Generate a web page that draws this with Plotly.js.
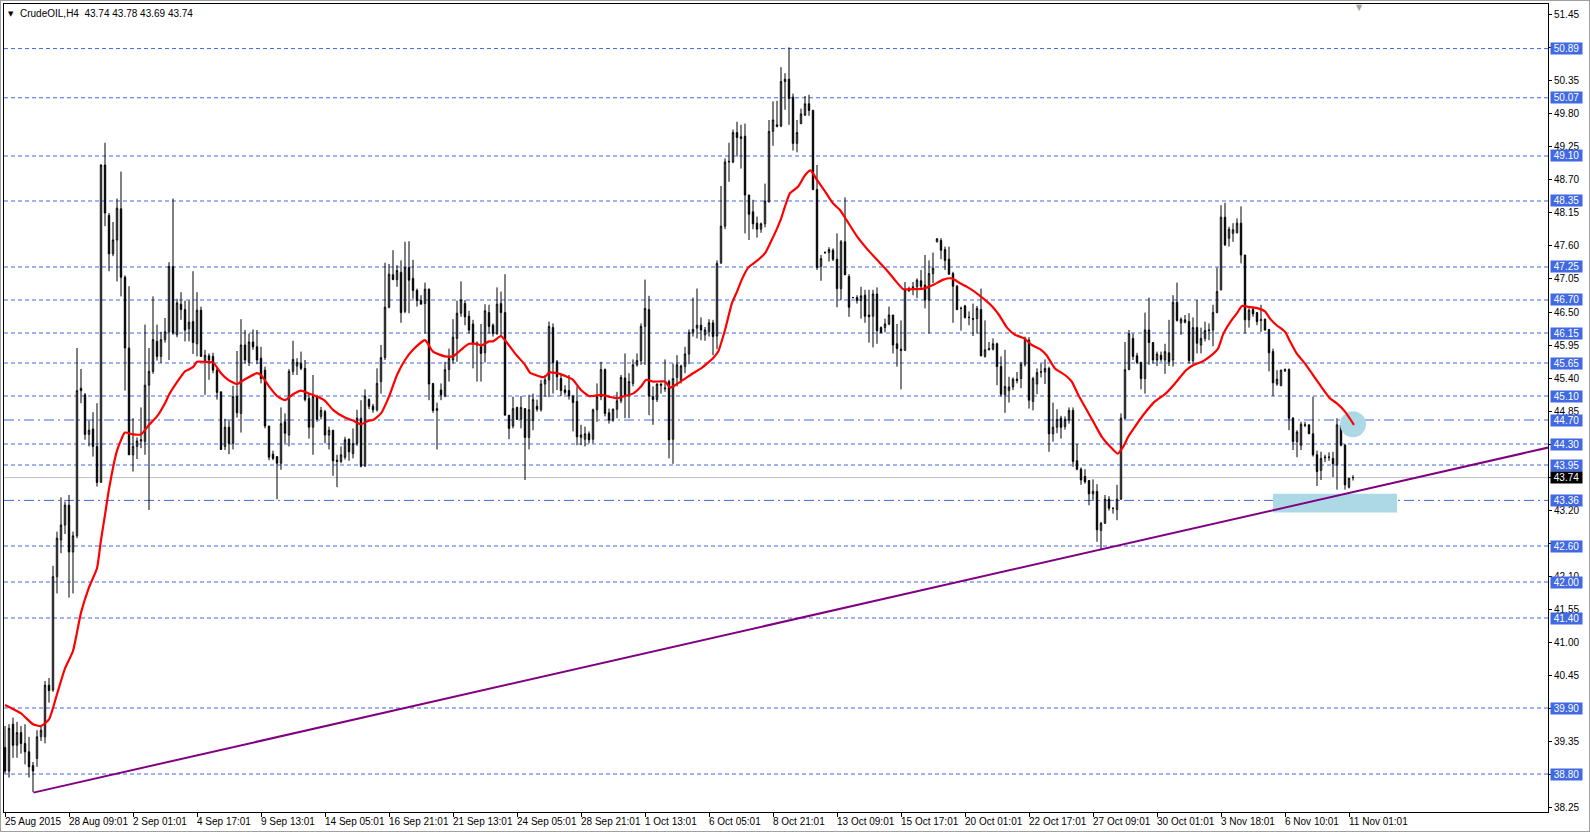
<!DOCTYPE html>
<html><head><meta charset="utf-8">
<script src="https://cdn.plot.ly/plotly-3.0.1.min.js"></script>
<style>
html,body{margin:0;padding:0;background:#fff;overflow:hidden}
#chart{position:absolute;left:0;top:0;width:1590px;height:832px}
#frame{position:absolute;left:0;top:0;width:1588px;height:830px;border:1px solid #a0a0a0;pointer-events:none}
</style></head>
<body><div id="chart"></div><div id="frame"></div>
<script>
// ---- Data (CrudeOIL, H4) ----
const open = [
39.24,38.85,39.63,39.28,39.49,39.31,39.17,38.94,39.06,39.42,
39.42,40.28,40.20,42.09,42.70,42.95,43.28,42.50,42.77,45.23,
45.12,44.46,44.55,44.26,43.66,48.95,48.11,47.47,47.70,48.22,
47.08,45.90,44.12,44.26,44.35,44.34,45.28,45.51,46.01,45.76,
46.04,46.17,47.26,46.12,46.63,46.54,46.22,46.34,45.97,46.53,
45.67,45.77,45.76,45.53,45.17,44.26,44.58,44.31,45.09,44.81,
45.95,45.66,46.00,45.92,45.73,45.53,44.60,44.13,44.09,43.98,
44.67,44.45,45.51,45.60,45.64,45.56,45.06,44.58,45.09,44.76,
44.84,44.45,44.53,44.03,44.01,44.08,44.38,44.14,44.31,44.73,
43.93,45.04,44.93,44.87,45.34,45.74,46.58,47.12,47.04,47.16,
46.51,47.24,47.06,46.86,46.69,46.64,46.88,45.31,44.86,45.20,
45.10,45.54,45.70,46.06,46.48,46.64,46.43,46.30,45.98,45.92,
45.82,46.49,46.28,46.14,46.64,46.49,44.78,44.60,44.91,44.71,
44.89,44.41,44.69,44.93,44.87,45.30,45.37,46.24,45.67,45.39,
45.20,45.19,45.09,45.01,44.41,44.38,44.47,44.38,44.87,45.09,
45.54,44.82,44.70,44.88,45.02,45.40,45.12,45.31,45.62,45.69,
46.26,46.54,45.09,45.04,45.30,45.22,45.34,44.38,45.41,45.36,
45.59,45.80,46.16,46.23,46.28,46.12,46.17,46.32,46.10,47.32,
47.93,49.00,49.00,49.49,49.39,49.43,48.45,48.17,47.98,47.88,
47.97,48.34,49.51,49.59,49.60,50.34,50.38,50.08,49.31,49.64,
49.78,49.97,49.86,48.54,47.26,47.49,47.49,47.53,47.38,46.89,
47.67,47.09,46.74,46.74,46.69,46.78,46.45,46.43,46.80,46.24,
46.24,46.30,46.45,45.97,45.88,45.86,46.85,46.88,46.92,47.02,
46.95,46.70,47.14,47.67,47.69,47.54,47.38,47.14,46.93,46.56,
46.60,46.41,46.39,46.39,46.54,45.76,45.87,45.88,45.97,45.59,
45.12,45.19,45.25,45.38,45.39,45.63,46.03,45.01,45.30,45.50,
45.50,45.56,44.47,44.58,44.73,44.59,44.70,44.86,44.02,43.88,
43.76,43.69,43.47,43.51,42.86,42.98,43.38,43.23,43.21,43.38,
44.73,45.54,46.06,45.77,45.66,45.39,46.20,45.99,45.70,45.78,
45.70,45.82,45.70,46.66,46.32,46.33,46.34,45.69,46.24,45.95,
46.06,46.19,46.20,46.49,46.87,48.08,47.73,47.81,47.82,47.98,
47.45,46.37,46.54,46.49,46.36,46.38,46.21,45.84,45.30,45.27,
45.52,45.54,44.73,44.34,44.28,44.61,44.62,44.47,44.12,43.86,
44.07,44.08,44.06,43.95,44.62,44.28,43.58,43.74];
const high = [
39.60,39.63,39.74,39.67,39.60,39.63,39.42,39.00,39.53,39.60,
40.35,40.40,42.27,42.84,43.41,43.34,43.45,42.84,45.90,45.55,
45.15,44.69,44.83,44.98,48.96,49.32,48.15,48.00,48.39,48.84,
47.11,46.93,44.73,44.41,44.91,46.29,45.90,46.76,46.29,46.17,
46.40,47.33,48.39,46.72,46.83,46.69,46.69,47.18,46.83,46.59,
45.87,45.81,45.82,45.59,45.17,44.72,44.69,45.27,45.85,46.38,
46.20,46.14,46.21,46.20,45.92,45.59,44.60,44.19,44.09,44.91,
44.81,45.55,46.02,45.73,45.84,45.70,45.14,45.45,45.12,44.92,
44.87,44.59,44.53,44.12,44.26,44.42,44.39,44.56,44.87,45.03,
45.21,45.06,44.97,45.56,45.95,47.32,47.30,47.53,47.28,47.36,
47.67,47.68,47.37,46.89,46.78,46.99,46.89,45.31,44.99,45.31,
45.67,45.89,46.38,46.69,47.01,46.70,46.52,46.37,46.01,46.30,
46.63,46.62,46.31,46.91,46.84,47.13,44.78,45.09,44.92,45.10,
44.89,45.12,45.14,45.04,45.37,45.45,46.34,46.31,45.70,45.45,
45.28,45.45,45.12,45.26,44.62,44.59,44.51,44.89,45.31,45.67,
45.56,44.89,44.89,45.17,45.45,45.81,45.48,45.71,45.81,46.31,
47.04,46.77,45.26,45.31,45.31,45.71,45.37,45.64,45.78,45.62,
45.92,46.21,46.74,46.89,46.41,46.25,46.38,46.37,47.36,48.60,
49.06,49.32,49.54,49.67,49.62,49.64,48.45,48.37,48.09,47.99,
48.64,49.70,50.01,50.02,50.58,50.48,50.91,50.14,49.70,49.89,
50.10,50.12,49.87,48.95,47.45,47.51,47.58,47.56,47.81,47.70,
48.41,47.13,46.75,46.78,46.92,46.87,46.87,46.87,46.91,46.26,
46.39,46.59,46.45,46.30,46.36,47.00,46.92,47.00,47.06,47.20,
47.45,47.36,47.49,47.73,47.73,47.59,47.59,47.17,46.95,46.59,
46.62,46.51,46.64,46.60,46.89,46.36,46.00,46.06,45.99,45.76,
45.87,45.42,45.41,45.50,45.67,46.09,46.08,45.42,45.56,45.64,
45.71,45.59,44.99,44.88,44.77,44.76,44.91,44.91,44.30,43.91,
43.88,43.70,43.71,43.63,43.00,43.45,43.43,43.23,43.62,44.81,
46.00,46.20,46.14,45.82,45.67,46.49,46.74,46.00,45.84,45.84,
45.97,46.37,46.78,46.99,46.41,46.45,46.48,46.41,46.70,46.24,
46.34,46.31,46.62,47.24,48.28,48.32,47.92,47.98,48.06,48.26,
47.45,46.56,46.59,46.50,46.62,46.39,46.21,45.89,45.53,45.54,
45.56,45.56,44.75,44.53,44.67,44.67,44.62,45.09,44.19,44.17,
44.12,44.16,44.17,44.73,44.64,44.30,43.73,43.78];
const low = [
38.81,38.74,39.07,39.07,39.14,38.96,38.74,38.50,38.92,39.35,
39.31,39.99,40.17,41.81,42.48,42.80,41.74,41.81,42.73,44.98,
44.37,44.26,44.09,43.59,43.66,47.93,47.18,47.43,47.01,46.76,
45.19,44.12,43.84,44.05,44.23,44.12,43.20,45.47,45.69,45.65,
45.99,45.70,46.12,46.08,46.37,46.01,46.01,45.80,45.76,45.76,
45.12,45.37,45.48,45.04,44.20,44.20,44.13,44.21,44.74,44.49,
45.64,45.60,45.87,45.63,45.31,44.56,44.03,44.03,43.38,43.87,
44.31,44.26,45.45,45.45,45.53,45.01,44.39,44.12,44.67,44.71,
44.31,44.21,43.77,43.58,43.98,44.04,44.02,44.06,44.27,43.91,
43.93,44.88,44.82,44.84,45.14,45.70,46.56,47.03,46.92,46.32,
46.48,46.48,46.72,46.59,46.63,46.14,45.03,44.82,44.21,45.03,
45.08,45.34,45.64,45.67,46.42,46.28,46.14,45.56,45.34,45.34,
45.66,46.14,46.09,46.12,46.10,44.78,44.38,44.56,44.71,44.56,
43.70,44.21,44.53,44.84,44.84,45.09,45.08,45.14,45.20,45.10,
45.12,45.04,44.51,44.28,44.28,44.26,44.31,44.31,44.67,45.03,
44.76,44.64,44.67,44.73,44.98,44.73,44.73,45.26,45.59,45.62,
45.62,44.78,44.62,45.00,45.14,45.17,44.06,43.97,45.26,45.31,
45.48,45.63,46.09,46.06,46.03,46.02,46.09,45.78,45.88,47.30,
47.88,48.67,48.98,49.09,48.89,47.81,47.70,47.88,47.74,47.82,
47.91,48.32,49.27,49.58,49.58,49.87,49.62,49.19,49.16,49.63,
49.77,49.77,48.53,47.20,47.02,47.47,47.34,47.35,46.58,46.70,
47.12,46.42,46.73,46.64,46.39,46.32,45.99,45.91,45.97,46.14,
46.16,46.28,45.81,45.59,45.21,45.86,46.84,46.78,46.73,46.89,
46.56,46.14,46.98,47.66,47.38,47.20,47.12,46.32,46.53,46.19,
46.39,46.28,46.10,46.14,45.76,45.74,45.86,45.86,45.28,45.09,
44.82,44.99,45.20,45.31,45.23,45.59,44.89,44.86,45.13,45.41,
45.30,44.17,44.34,44.48,44.39,44.54,44.64,43.92,43.86,43.62,
43.64,43.28,43.37,42.67,42.53,42.97,43.19,43.14,43.03,43.37,
44.71,45.53,45.70,45.63,45.21,45.14,45.62,45.64,45.60,45.67,
45.47,45.60,45.59,46.34,46.12,46.31,45.64,45.63,45.81,45.81,
46.01,46.03,45.93,46.48,46.86,47.60,47.59,47.67,47.81,47.31,
46.14,46.24,46.42,46.28,46.17,46.19,45.51,45.10,45.27,45.27,
45.50,44.53,44.20,44.08,44.20,44.58,44.47,44.09,43.60,43.70,
44.00,44.02,43.75,43.54,44.26,43.54,43.56,43.69];
const close = [
38.85,39.56,39.28,39.49,39.31,39.17,38.92,38.85,39.42,39.53,
40.28,40.19,42.09,42.73,42.95,43.28,42.50,42.77,45.19,45.19,
44.46,44.53,44.26,43.66,48.95,48.15,47.47,47.70,48.23,47.08,
45.90,44.12,44.26,44.35,44.37,45.28,45.51,46.04,45.76,46.04,
46.17,47.26,46.15,46.65,46.54,46.20,46.33,45.99,46.53,45.76,
45.78,45.70,45.53,45.16,44.21,44.58,44.31,45.09,44.82,45.95,
45.70,46.00,45.92,45.70,45.39,44.60,44.08,44.06,43.98,44.64,
44.48,45.51,45.71,45.66,45.56,45.04,44.58,45.09,44.71,44.86,
44.45,44.53,44.02,44.01,44.12,44.37,44.17,44.31,44.73,43.93,
45.10,44.93,44.87,45.31,45.74,46.58,47.13,47.04,47.19,46.49,
47.24,47.03,46.86,46.69,46.63,46.88,45.30,44.86,44.89,45.12,
45.54,45.73,46.08,46.48,46.70,46.42,46.20,45.98,45.95,45.81,
46.52,46.26,46.14,46.63,46.49,44.78,44.56,44.89,44.71,44.91,
44.41,44.87,45.04,44.88,45.30,45.37,46.26,45.66,45.42,45.19,
45.16,45.10,44.99,44.42,44.45,44.47,44.37,44.87,45.09,45.54,
44.81,44.70,44.88,45.02,45.41,45.12,45.34,45.62,45.69,46.26,
46.56,45.10,45.04,45.30,45.28,45.23,44.37,45.39,45.62,45.60,
45.80,46.16,46.21,46.28,46.20,46.20,46.32,46.09,47.31,47.93,
49.00,49.01,49.49,49.41,49.42,48.45,48.13,47.97,47.88,47.97,
48.35,49.51,49.70,49.62,50.34,50.38,50.06,49.31,49.49,49.80,
49.97,49.86,48.54,47.24,47.39,47.49,47.54,47.38,46.89,47.67,
47.12,46.58,46.74,46.69,46.77,46.43,46.42,46.80,46.19,46.16,
46.30,46.45,45.95,45.89,45.86,46.87,46.89,46.92,47.03,46.93,
46.70,47.14,47.23,47.72,47.53,47.36,47.13,46.93,46.54,46.56,
46.41,46.41,46.38,46.56,45.77,45.87,45.89,45.97,45.59,45.13,
45.26,45.25,45.38,45.36,45.63,46.06,45.03,45.39,45.49,45.50,
45.56,44.47,44.58,44.71,44.58,44.71,44.86,44.01,43.88,43.70,
43.67,43.47,43.51,42.87,42.98,43.38,43.23,43.23,43.38,44.73,
45.54,46.14,45.76,45.66,45.39,46.20,45.99,45.70,45.80,45.71,
45.84,45.67,46.66,46.36,46.38,46.37,45.69,46.24,45.98,46.06,
46.19,46.20,46.49,46.84,48.08,47.62,47.88,47.87,47.98,47.45,
46.37,46.53,46.47,46.34,46.37,46.20,45.82,45.32,45.38,45.53,
45.54,44.73,44.34,44.50,44.63,44.62,44.47,44.12,43.84,44.06,
44.08,44.08,43.97,44.62,44.28,43.62,43.73,43.74];

// Moving average (red): bar position / price
const maX = [0,4,7,9,11,13,15,17,19,21,23,24,25,26,28,30,32,34,36,38,40,41,43,45,47,48,
50,52,54,55.8,58,60,63,64,66,68,70,72,74,76,78,80,82,85,87,89,91,92,94,96,98,
100,102,105,107,110,112,114,116,118,119,121,122,124,125,127.5,130,131.25,134,135,136,138,140.5,142,144,146,
147,149,151,153,155,157,159,160.3,162,165,166.3,168,170,172,174,176,177,178.3,180,181.7,183,184.2,185.8,188.3,190,191.25,193,194,195,
196.25,198.3,200,201.4,203,205,207,208.75,210.4,213,215.4,218,220.4,222.5,224.6,227,229.6,232,234.6,236.7,238.75,241.25,243.75,
246.7,248.5,250.5,252.5,254.8,256.7,259,260.4,262.5,265,266.7,268.3,270.4,272.5,274.2,276.25,278.2,279.6,280.8,282.5,285,287.5,290,292.5,
295.25,297.25,299.25,301.25,303.25,304.6,306.7,308,309.25,311.25,313.25,315,316.25,317.9,320,321.25,322.9,325,327,329,331.25,332.9,335,337.25];
const maY = [39.95,39.81,39.63,39.60,39.71,40.13,40.56,40.85,41.49,41.91,42.23,42.70,43.12,43.55,44.19,44.49,44.46,44.46,44.62,44.76,44.98,45.12,45.33,45.51,45.58,45.67,
45.67,45.66,45.48,45.37,45.30,45.38,45.48,45.45,45.26,45.10,45.03,45.13,45.19,45.14,45.09,45.02,44.87,44.74,44.69,44.63,44.69,44.70,44.81,45.09,45.45,
45.70,45.87,46.03,45.84,45.76,45.76,45.87,45.97,45.97,45.94,46.01,46.01,46.10,46.03,45.81,45.62,45.49,45.42,45.42,45.49,45.48,45.42,45.37,45.20,45.10,
45.10,45.12,45.09,45.06,45.10,45.14,45.26,45.37,45.34,45.34,45.24,45.30,45.39,45.48,45.56,45.67,45.73,45.84,46.20,46.64,46.84,47.04,47.24,47.37,47.48,47.64,47.89,48.05,48.26,
48.48,48.59,48.78,48.86,48.70,48.51,48.31,48.20,48.03,47.76,47.56,47.37,47.20,47.03,46.88,46.88,46.89,46.95,47.04,47.06,46.98,46.89,46.77,
46.60,46.45,46.24,46.12,46.06,45.95,45.87,45.78,45.56,45.45,45.34,45.12,44.87,44.62,44.42,44.26,44.14,44.26,44.42,44.59,44.82,45.01,45.13,45.31,
45.53,45.62,45.67,45.76,45.89,46.14,46.37,46.48,46.60,46.58,46.56,46.51,46.39,46.28,46.17,46.01,45.81,45.64,45.45,45.26,45.06,44.98,44.84,44.62];

// Purple trend line (two anchor points: start and right edge)
const trendX = [7.1, 385.75];
const trendY = [38.49, 44.24];

// Horizontal levels
const levels = [50.89,50.07,49.10,48.35,47.25,46.70,46.15,45.65,45.10,44.70,44.30,43.95,43.36,42.60,42.00,41.40,39.90,38.80];
const dashDotLevels = [44.70,43.36];
const bidPrice = 43.74;

// Light blue markers
const circleX = [337];
const circleY = [44.63];
const zoneX = [317, 348];
const zoneY = [43.16, 43.47];

// Price scale ticks (labels hidden where a level box covers them)
const yTickVals = [38.25,38.80,39.35,39.90,40.45,41.00,41.55,42.10,42.65,43.20,43.75,44.30,44.85,45.40,45.95,46.50,47.05,47.60,48.15,48.70,49.25,49.80,50.35,50.90,51.45];
const yTickText = ['38.25','','39.35','','40.45','41.00','41.55','42.10','','43.20','','','44.85','45.40','45.95','46.50','47.05','47.60','48.15','48.70','49.25','49.80','50.35','','51.45'];

// X labels (one every 16 H4 bars)
const xLabels = ['25 Aug 2015','28 Aug 09:01','2 Sep 01:01','4 Sep 17:01','9 Sep 13:01','14 Sep 05:01','16 Sep 21:01','21 Sep 13:01','24 Sep 05:01','28 Sep 21:01','1 Oct 13:01','6 Oct 05:01','8 Oct 21:01','13 Oct 09:01','15 Oct 17:01','20 Oct 01:01','22 Oct 17:01','27 Oct 09:01','30 Oct 01:01','3 Nov 18:01','6 Nov 10:01','11 Nov 01:01'];
const xLabelBars = [0,16,32,48,64,80,96,112,128,144,160,176,192,208,224,240,256,272,288,304,320,336];
const titleText = 'CrudeOIL,H4\u00a0\u00a043.74 43.78 43.69 43.74';

// ---- Build figure ----
const FONT = 'Liberation Sans, Arial, sans-serif';
const BLUE = '#4169E1';
const idx = open.map((_, i) => i);

const traces = [
  {type:'scatter', mode:'markers', x:circleX, y:circleY, hoverinfo:'skip',
   marker:{size:26, color:'#ADD8E6', line:{width:0}}},
  {type:'candlestick', x:idx, open:open, high:high, low:low, close:close, hoverinfo:'skip',
   whiskerwidth:0,
   increasing:{line:{color:'#000000', width:1}, fillcolor:'#ffffff'},
   decreasing:{line:{color:'#000000', width:1}, fillcolor:'#000000'}},
  {type:'scatter', mode:'lines', x:maX, y:maY, hoverinfo:'skip',
   line:{color:'#ff0000', width:2.2, shape:'spline', smoothing:0.5}},
  {type:'scatter', mode:'lines', x:trendX, y:trendY, hoverinfo:'skip',
   line:{color:'#800080', width:2}}
];

const shapes = [
  {type:'rect', xref:'x', yref:'y', x0:zoneX[0], x1:zoneX[1], y0:zoneY[0], y1:zoneY[1],
   fillcolor:'#ADD8E6', line:{width:0}, layer:'below'}
];
levels.forEach(lv => {
  const dd = dashDotLevels.includes(lv);
  shapes.push({type:'line', xref:'paper', yref:'y', x0:0, x1:1, y0:lv, y1:lv, layer:'below',
    line:{color:BLUE, width:1, dash: dd ? '10px,4px,2px,4px' : '4px,3px'}});
});
shapes.push({type:'line', xref:'paper', yref:'y', x0:0, x1:1, y0:bidPrice, y1:bidPrice, layer:'below',
  line:{color:'#c0c0c0', width:1}});

const annotations = [];
levels.forEach(lv => {
  annotations.push({xref:'paper', yref:'y', x:1, y:lv, xanchor:'left', yanchor:'middle', xshift:2,
    text:lv.toFixed(2), showarrow:false, bgcolor:BLUE, borderpad:0, width:31, height:11, align:'center',
    font:{family:FONT, size:10, color:'#ffffff'}});
});
annotations.push({xref:'paper', yref:'y', x:1, y:bidPrice, xanchor:'left', yanchor:'middle', xshift:2,
  text:bidPrice.toFixed(2), showarrow:false, bgcolor:'#000000', borderpad:0, width:31, height:11, align:'center',
  font:{family:FONT, size:10, color:'#ffffff'}});
xLabels.forEach((t, i) => {
  annotations.push({xref:'x', yref:'paper', x:xLabelBars[i], y:0, xanchor:'left', yanchor:'top',
    xshift:-2, yshift:-2, text:t, showarrow:false, font:{family:FONT, size:10, color:'#000000'}});
});
annotations.push({xref:'paper', yref:'paper', x:0, y:1, xanchor:'left', yanchor:'top', xshift:2, yshift:-4,
  text:'\u25BC', showarrow:false, font:{family:'DejaVu Sans', size:7, color:'#000000'}});
annotations.push({xref:'paper', yref:'paper', x:0, y:1, xanchor:'left', yanchor:'top', xshift:14, yshift:-2,
  text:titleText, showarrow:false, font:{family:FONT, size:10, color:'#000000'}});
annotations.push({xref:'x', yref:'paper', x:338.5, y:1, xanchor:'center', yanchor:'top', yshift:3,
  text:'\u25BC', showarrow:false, font:{family:'DejaVu Sans', size:8, color:'#a0a0a0'}});

const layout = {
  width:1590, height:832,
  margin:{l:4, r:42, t:4, b:20, pad:0},
  paper_bgcolor:'#ffffff', plot_bgcolor:'#ffffff',
  showlegend:false, hovermode:false, dragmode:false,
  boxgap:0.5,
  xaxis:{type:'linear', range:[-0.25, 385.75], showgrid:false, zeroline:false,
    showline:true, mirror:true, linecolor:'#000000', linewidth:1,
    ticks:'outside', ticklen:4, tickcolor:'#000000', tickwidth:1,
    tickmode:'array', tickvals:xLabelBars, showticklabels:false,
    rangeslider:{visible:false}, fixedrange:true},
  yaxis:{side:'right', range:[38.167, 51.633], showgrid:false, zeroline:false,
    showline:true, mirror:true, linecolor:'#000000', linewidth:1,
    ticks:'outside', ticklen:3, tickcolor:'#000000', tickwidth:1,
    tickmode:'array', tickvals:yTickVals, ticktext:yTickText,
    tickfont:{family:FONT, size:10, color:'#000000'}, fixedrange:true},
  shapes:shapes,
  annotations:annotations
};

Plotly.newPlot('chart', traces, layout, {displayModeBar:false, staticPlot:true});
</script>
</body></html>
